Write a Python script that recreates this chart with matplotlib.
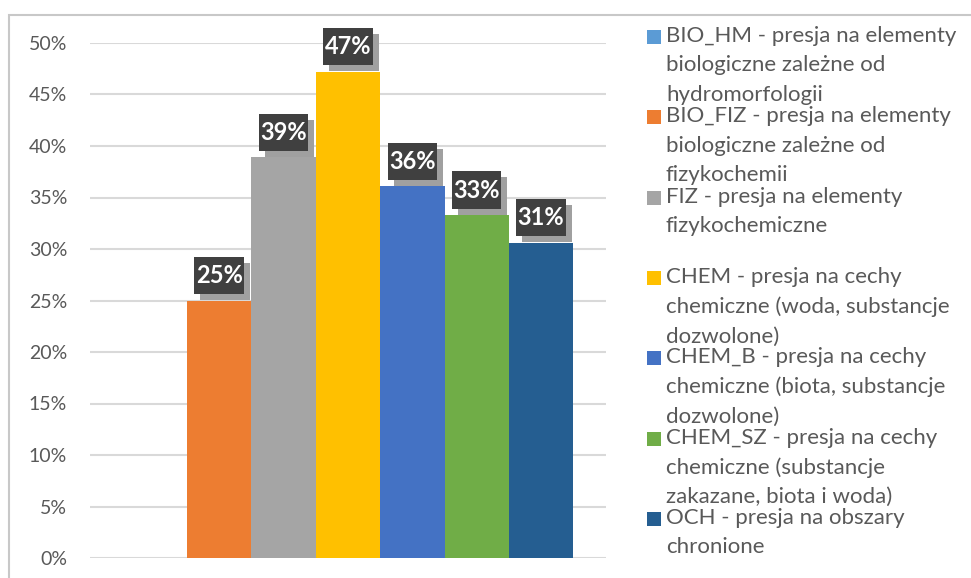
import matplotlib.pyplot as plt
from matplotlib.patches import Rectangle
from matplotlib.path import Path
from matplotlib.ticker import FuncFormatter
import matplotlib.patheffects as pe

plt.rcParams['font.family'] = ['Lato', 'DejaVu Sans']

# dane
kategorie = ["BIO_HM", "BIO_FIZ", "FIZ", "CHEM", "CHEM_B", "CHEM_SZ", "OCH"]
wartosci = [0.0, 25.0, 38.9, 47.2, 36.1, 33.3, 30.6]
etykiety = ["", "25%", "39%", "47%", "36%", "33%", "31%"]
opisy = [
    "BIO_HM - presja na elementy\nbiologiczne zależne od\nhydromorfologii",
    "BIO_FIZ - presja na elementy\nbiologiczne zależne od\nfizykochemii",
    "FIZ - presja na elementy\nfizykochemiczne",
    "CHEM - presja na cechy\nchemiczne (woda, substancje\ndozwolone)",
    "CHEM_B - presja na cechy\nchemiczne (biota, substancje\ndozwolone)",
    "CHEM_SZ - presja na cechy\nchemiczne (substancje\nzakazane, biota i woda)",
    "OCH - presja na obszary\nchronione",
]
kolory = ["#5B9BD5", "#ED7D31", "#A5A5A5", "#FFC000", "#4472C4", "#70AD47", "#255E91"]


def ramka(x0, y0, width, height, mutation_size):
    # prostokat z innym marginesem w poziomie i w pionie
    px, py = 0.06 * mutation_size, 0.3 * mutation_size
    x0, y0 = x0 - px, y0 - py
    x1, y1 = x0 + width + 2 * px, y0 + height + 2 * py
    return Path([(x0, y0), (x1, y0), (x1, y1), (x0, y1), (x0, y0)], closed=True)


W, H = 971, 578
fig = plt.figure(figsize=(W / 100, H / 100), dpi=100)
ax = fig.add_axes([90 / W, 1 - 558 / H, (606 - 90) / W, (558 - 43) / H])

x = list(range(len(kategorie)))
ax.bar(x, wartosci, width=1.0, color=kolory, zorder=2)
ax.set_xlim(-1.01, 7.01)
ax.set_ylim(0, 50)
ax.set_yticks(range(0, 51, 5))
ax.yaxis.set_major_formatter(FuncFormatter(lambda v, p: f"{v:.0f}%"))
ax.tick_params(axis='y', length=0, pad=16.5, labelsize=14, labelcolor="#595959")
ax.set_xticks([])
ax.grid(axis='y', color="#D9D9D9", linewidth=1.5, zorder=0)
for s in ax.spines.values():
    s.set_visible(False)

# etykiety z cieniem
for xi, v, t in zip(x, wartosci, etykiety):
    if not t:
        continue
    txt = ax.annotate(t, (xi, v), xytext=(0, 25), textcoords='offset pixels',
                      ha='center', va='center', fontsize=17, fontweight='bold', color="white",
                      bbox=dict(boxstyle=ramka, fc="#404040", ec='none'), zorder=4)
    txt.get_bbox_patch().set_path_effects([
        pe.SimplePatchShadow(offset=(4.3, -4.3), shadow_rgbFace="#A0A0A0", alpha=1),
        pe.Normal()])

# legenda
for i, (opis, kol) in enumerate(zip(opisy, kolory)):
    yc = 37 + i * 80.3
    fig.add_artist(Rectangle((647 / W, 1 - (yc + 7) / H), 14 / W, 14 / H,
                             transform=fig.transFigure, fc=kol, ec='none'))
    fig.text(666 / W, 1 - (yc - 11) / H, opis, ha='left', va='top', fontsize=16,
             color="#595959", linespacing=1.58)

# ramka wykresu
fig.add_artist(Rectangle((9 / W, -0.1), 1.2, 1.1 - 15 / H, transform=fig.transFigure,
                         fill=False, ec="#C8C8C8", lw=1.5))

fig.savefig("out.png", dpi=100)
